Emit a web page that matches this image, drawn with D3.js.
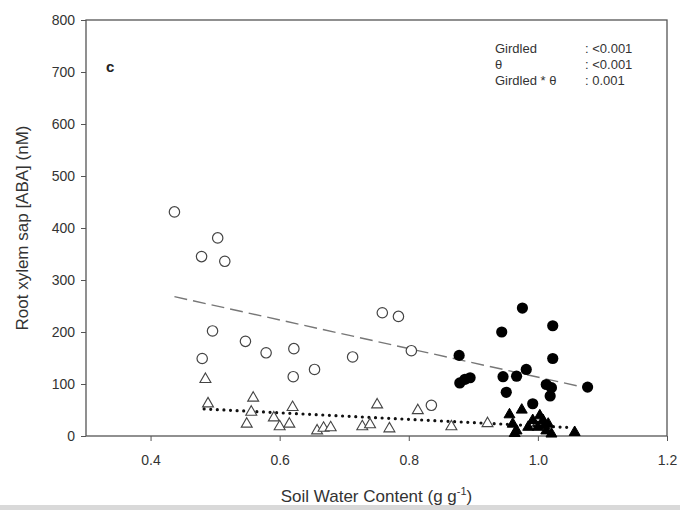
<!DOCTYPE html>
<html>
<head>
<meta charset="utf-8">
<script src="https://cdn.jsdelivr.net/npm/d3@7"></script>
<style>
  body { margin: 0; background: #fff; }
  svg { font-family: "Liberation Sans", Arial, sans-serif; }
  .tick text { fill: #333; }
</style>
</head>
<body>
<div id="chart"></div>
<script>
// open circles
var openCircleX = [0.437, 0.504, 0.479, 0.515, 0.496, 0.480, 0.547, 0.579, 0.622, 0.621, 0.654, 0.713, 0.759, 0.784, 0.804, 0.835];
var openCircleY = [431, 381, 345, 336, 202, 149, 182, 160, 168, 114, 128, 152, 237, 230, 164, 59];
// filled circles
var fillCircleX = [0.976, 0.944, 1.023, 1.023, 0.878, 0.879, 0.887, 0.895, 0.946, 0.967, 0.982, 0.951, 1.013, 1.021, 1.019, 0.992, 1.077];
var fillCircleY = [246, 200, 212, 149, 155, 102, 109, 112, 114, 115, 128, 84, 99, 93, 77, 62, 94];
// open triangles
var openTriX = [0.485, 0.489, 0.559, 0.556, 0.549, 0.591, 0.600, 0.615, 0.620, 0.658, 0.668, 0.679, 0.728, 0.740, 0.751, 0.770, 0.814, 0.866, 0.922];
var openTriY = [111, 64, 75, 48, 25, 37, 20, 25, 57, 12, 17, 18, 20, 24, 62, 16, 51, 20, 26];
// filled triangles
var fillTriX = [0.956, 0.975, 0.961, 0.967, 0.964, 0.985, 0.992, 1.003, 1.008, 1.000, 1.016, 1.013, 1.021, 1.010, 1.057];
var fillTriY = [43, 52, 25, 12, 7, 19, 32, 41, 32, 19, 25, 12, 6, 22, 9];
// regression lines (end points)
var dashLineX = [0.437, 1.077];
var dashLineY = [268, 92];
var dotLineX = [0.483, 1.054];
var dotLineY = [52, 16];

var xTicks = [0.4, 0.6, 0.8, 1.0, 1.2];
var yTicks = [0, 100, 200, 300, 400, 500, 600, 700, 800];

var statNames = ["Girdled", "\u03b8", "Girdled * \u03b8"];
var statValues = [": <0.001", ": <0.001", ": 0.001"];

var width = 680, height = 510;
var margin = { left: 86, right: 13, top: 20, bottom: 74 };

var svg = d3.select("#chart").append("svg")
  .attr("width", width)
  .attr("height", height);

var x = d3.scaleLinear().domain([0.3, 1.2]).range([margin.left, width - margin.right]);
var y = d3.scaleLinear().domain([0, 800]).range([height - margin.bottom, margin.top]);

function pts(xs, ys) {
  return xs.map(function (d, i) { return { x: d, y: ys[i] }; });
}

// axes
var xAxis = svg.append("g")
  .attr("transform", "translate(0," + y(0) + ")")
  .call(d3.axisBottom(x).tickValues(xTicks).tickFormat(d3.format(".1f")).tickSize(5).tickPadding(14));
var yAxis = svg.append("g")
  .attr("transform", "translate(" + x(0.3) + ",0)")
  .call(d3.axisLeft(y).tickValues(yTicks).tickSize(5).tickPadding(6));

[xAxis, yAxis].forEach(function (a) {
  a.select(".domain").remove();
  a.selectAll(".tick line").attr("stroke", "#555");
  a.selectAll(".tick text").style("font-size", "14px");
});

// frame
svg.append("rect")
  .attr("x", x(0.3)).attr("y", y(800))
  .attr("width", x(1.2) - x(0.3)).attr("height", y(0) - y(800))
  .attr("fill", "none").attr("stroke", "#555").attr("stroke-width", 1.3);

// lines
var line = d3.line().x(function (d) { return x(d.x); }).y(function (d) { return y(d.y); });
svg.append("path")
  .attr("d", line(pts(dashLineX, dashLineY)))
  .attr("fill", "none").attr("stroke", "#777").attr("stroke-width", 1.4)
  .attr("stroke-dasharray", "13,6");
svg.append("path")
  .attr("d", line(pts(dotLineX, dotLineY)))
  .attr("fill", "none").attr("stroke", "#111").attr("stroke-width", 3.2)
  .attr("stroke-linecap", "round")
  .attr("stroke-dasharray", "0,6.6");

// markers
var tri = d3.symbol().type(d3.symbolTriangle).size(52);

svg.append("g").selectAll("circle")
  .data(pts(openCircleX, openCircleY)).join("circle")
  .attr("cx", function (d) { return x(d.x); })
  .attr("cy", function (d) { return y(d.y); })
  .attr("r", 5.2)
  .attr("fill", "#fff").attr("stroke", "#444").attr("stroke-width", 1.2);

svg.append("g").selectAll("path")
  .data(pts(openTriX, openTriY)).join("path")
  .attr("d", tri)
  .attr("transform", function (d) { return "translate(" + x(d.x) + "," + (y(d.y) + 1) + ")"; })
  .attr("fill", "#fff").attr("stroke", "#444").attr("stroke-width", 1.1);

svg.append("g").selectAll("circle")
  .data(pts(fillCircleX, fillCircleY)).join("circle")
  .attr("cx", function (d) { return x(d.x); })
  .attr("cy", function (d) { return y(d.y); })
  .attr("r", 5.6)
  .attr("fill", "#000");

svg.append("g").selectAll("path")
  .data(pts(fillTriX, fillTriY)).join("path")
  .attr("d", tri)
  .attr("transform", function (d) { return "translate(" + x(d.x) + "," + (y(d.y) + 1) + ")"; })
  .attr("fill", "#000").attr("stroke", "#000").attr("stroke-width", 1);

// panel letter
svg.append("text")
  .attr("x", 106).attr("y", 72)
  .style("font-size", "15px").style("font-weight", "bold").attr("fill", "#222")
  .text("c");

// statistics
var stats = svg.append("g").style("font-size", "13px").attr("fill", "#333");
statNames.forEach(function (s, i) {
  stats.append("text").attr("x", 495).attr("y", 53 + i * 16).text(s);
  stats.append("text").attr("x", 585).attr("y", 53 + i * 16).text(statValues[i]);
});

// axis titles
svg.append("text")
  .attr("transform", "translate(28," + y(400) + ") rotate(-90)")
  .attr("text-anchor", "middle")
  .style("font-size", "17px").attr("fill", "#333")
  .text("Root xylem sap [ABA] (nM)");

var xt = svg.append("text")
  .attr("x", (x(0.3) + x(1.2)) / 2).attr("y", 502)
  .attr("text-anchor", "middle")
  .style("font-size", "17px").attr("fill", "#333");
xt.append("tspan").text("Soil Water Content (g g");
xt.append("tspan").attr("dy", -7).style("font-size", "11px").text("-1");
xt.append("tspan").attr("dy", 7).text(")");

// light strip along the bottom edge
svg.append("rect")
  .attr("x", 0).attr("y", 505).attr("width", width).attr("height", 5)
  .attr("fill", "#d9d9d9");
</script>
</body>
</html>
